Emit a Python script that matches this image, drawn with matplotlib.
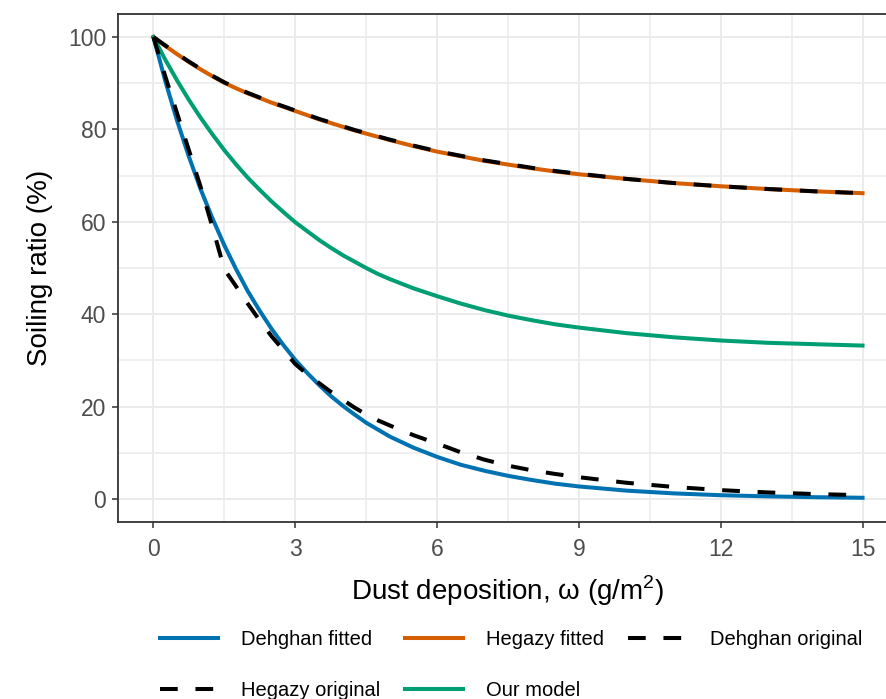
import matplotlib
matplotlib.use('Agg')
import matplotlib.pyplot as plt
from matplotlib.ticker import MultipleLocator

plt.rcParams['font.family'] = ['Liberation Sans', 'DejaVu Sans']
plt.rcParams['mathtext.fontset'] = 'custom'
plt.rcParams['mathtext.rm'] = 'Liberation Sans'

# dust deposition (g/m2) and soiling ratio (%)
omega = [0, 0.25, 0.5, 0.75, 1, 1.25, 1.5, 1.75, 2, 2.25, 2.5, 2.75, 3, 3.25, 3.5,
         3.75, 4, 4.25, 4.5, 4.75, 5, 5.5, 6, 6.5, 7, 7.5, 8, 8.5, 9, 10, 11, 12,
         13, 14, 15]
dehghan_fitted = [100, 90.5, 81.9, 74.1, 67.0, 60.7, 54.9, 49.7, 44.9, 40.7, 36.8,
                  33.3, 30.1, 27.3, 24.7, 22.3, 20.2, 18.3, 16.5, 15.0, 13.5, 11.1,
                  9.1, 7.4, 6.1, 5.0, 4.1, 3.3, 2.7, 1.8, 1.2, 0.8, 0.55, 0.37, 0.25]
hegazy_fitted = [100, 98.1, 96.3, 94.6, 93.0, 91.5, 90.1, 88.9, 87.8, 86.8, 85.8,
                 84.9, 84.0, 83.1, 82.2, 81.4, 80.6, 79.8, 79.1, 78.4, 77.7, 76.4,
                 75.2, 74.2, 73.2, 72.4, 71.6, 70.9, 70.3, 69.3, 68.4, 67.7, 67.1,
                 66.6, 66.2]
dehghan_original = [100, 91.5, 83.5, 75.5, 67.5, 58.8, 49.7, 46.0, 42.2, 38.6, 35.2,
                    32.2, 29.2, 27.0, 25.1, 23.2, 21.5, 19.8, 18.3, 17.0, 15.9, 13.8,
                    12.0, 10.1, 8.5, 7.2, 6.2, 5.4, 4.7, 3.5, 2.6, 1.9, 1.4, 1.05, 0.8]
hegazy_original = [100, 98.2, 96.4, 94.7, 93.1, 91.6, 90.2, 89.0, 87.9, 86.9, 85.9,
                   85.0, 84.1, 83.2, 82.3, 81.5, 80.7, 79.9, 79.2, 78.5, 77.8, 76.5,
                   75.3, 74.3, 73.3, 72.5, 71.7, 71.0, 70.4, 69.3, 68.4, 67.7, 67.1,
                   66.6, 66.2]
our_model = [100, 95.1, 90.6, 86.4, 82.5, 78.9, 75.5, 72.4, 69.5, 66.9, 64.4, 62.1,
             59.9, 58.0, 56.1, 54.4, 52.8, 51.4, 50.0, 48.7, 47.6, 45.6, 43.9, 42.3,
             40.9, 39.7, 38.7, 37.8, 37.1, 35.9, 35.0, 34.3, 33.8, 33.5, 33.2]

x_ticks = [0, 3, 6, 9, 12, 15]
y_ticks = [0, 20, 40, 60, 80, 100]

W, H = 886, 699
fig = plt.figure(figsize=(W / 100, H / 100), dpi=100)
ax = fig.add_axes([118 / W, 1 - 522 / H, (898 - 118) / W, (522 - 14) / H])

lw = 2.9
dash = (4.4, 4.4)
l1, = ax.plot(omega, dehghan_fitted, color='#0072B2', lw=lw, zorder=3)
l2, = ax.plot(omega, hegazy_fitted, color='#D55E00', lw=lw, zorder=3)
l5, = ax.plot(omega, our_model, color='#009E73', lw=lw, zorder=3)
l3, = ax.plot(omega, dehghan_original, color='black', lw=lw, dashes=dash, zorder=4)
l4, = ax.plot(omega, hegazy_original, color='black', lw=lw, dashes=dash, zorder=4)

ax.set_xlim(-0.75, 15.75)
ax.set_ylim(-5, 105)
ax.set_xticks(x_ticks)
ax.set_yticks(y_ticks)
ax.xaxis.set_minor_locator(MultipleLocator(1.5))
ax.yaxis.set_minor_locator(MultipleLocator(10))
ax.grid(True, which='major', color='#EBEBEB', lw=1.4)
ax.grid(True, which='minor', color='#EBEBEB', lw=1.1)
ax.set_axisbelow(True)
ax.tick_params(which='major', length=4, width=1.1, color='#333333',
               labelsize=16.5, labelcolor='#4D4D4D')
ax.tick_params(axis='x', which='major', pad=7.5)
ax.tick_params(axis='y', which='major', pad=4.5)
ax.tick_params(which='minor', length=0)
for s in ax.spines.values():
    s.set_color('#333333')
    s.set_linewidth(1.3)

ax.set_xlabel(r'Dust deposition, ω (g/m$^{\mathrm{2}}$)', fontsize=20, labelpad=9)
ax.set_ylabel('Soiling ratio (%)', fontsize=20, labelpad=11)

handles = [l1, l4, l2, l5, l3]
labels = ['Dehghan fitted', 'Hegazy original', 'Hegazy fitted', 'Our model',
          'Dehghan original']
fig.legend(handles, labels, loc='center', bbox_to_anchor=(511 / W, 1 - 665 / H),
           ncol=3, frameon=False, fontsize=14.5, handlelength=2.9,
           handletextpad=1.15, columnspacing=1.2, labelspacing=1.55)

fig.savefig('out.png', dpi=100)
